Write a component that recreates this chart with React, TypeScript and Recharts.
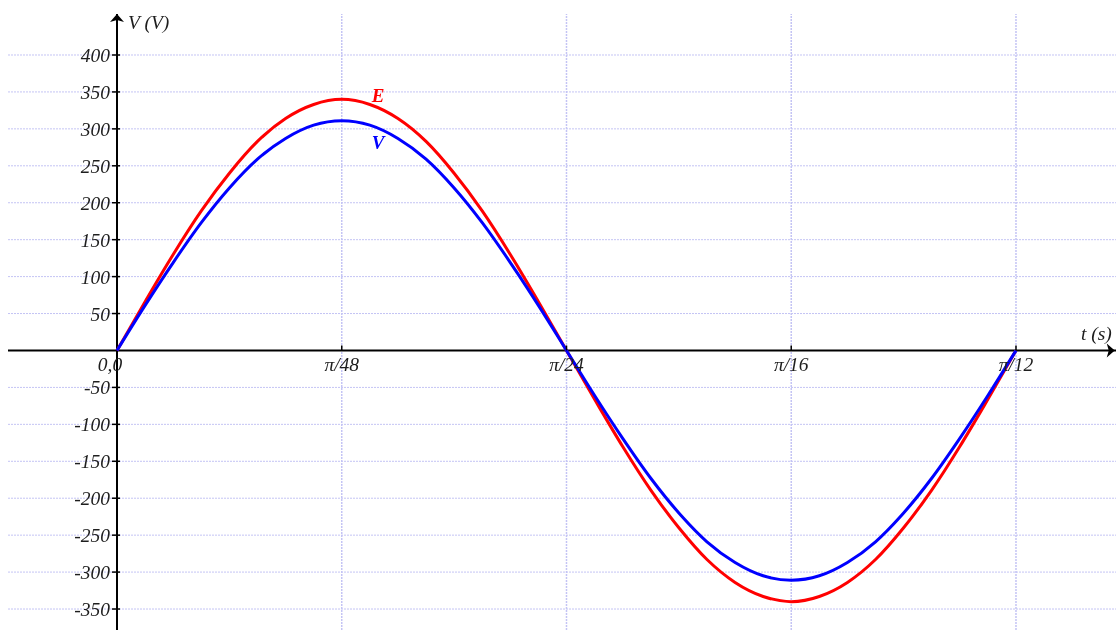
import React from 'react';
import { LineChart, Line, XAxis, YAxis, ReferenceLine, ReferenceDot } from 'recharts';

// time in units of π/48 s
const tValues = [0, 0.125, 0.25, 0.375, 0.5, 0.625, 0.75, 0.875, 1, 1.125, 1.25, 1.375, 1.5, 1.625, 1.75, 1.875, 2, 2.125, 2.25, 2.375, 2.5, 2.625, 2.75, 2.875, 3, 3.125, 3.25, 3.375, 3.5, 3.625, 3.75, 3.875, 4];
const eValues = [0, 66, 130, 189, 240, 283, 314, 333, 340, 333, 314, 283, 240, 189, 130, 66, 0, -66, -130, -189, -240, -283, -314, -333, -340, -333, -314, -283, -240, -189, -130, -66, 0];
const vValues = [0, 61, 119, 173, 220, 259, 287, 305, 311, 305, 287, 259, 220, 173, 119, 61, 0, -61, -119, -173, -220, -259, -287, -305, -311, -305, -287, -259, -220, -173, -119, -61, 0];

const xTicks = [0, 1, 2, 3, 4];
const xTickLabels = ['0,0', 'π/48', 'π/24', 'π/16', 'π/12'];
const yTicks = [-350, -300, -250, -200, -150, -100, -50, 50, 100, 150, 200, 250, 300, 350, 400];

const X_DOMAIN: [number, number] = [-0.485, 4.445];
const Y_DOMAIN: [number, number] = [-378.4, 455.5];

const data = tValues.map((t, i) => ({ t, E: eValues[i], V: vValues[i] }));

const FONT = '"Liberation Serif", "DejaVu Serif", serif';
const GRID = '#c4c4f4';
const TXT = '#1e1e1e';

export default function App() {
  return (
    <div style={{ position: 'fixed', left: 8, top: 8, width: 1108, height: 622 }}>
      <LineChart width={1108} height={622} data={data} margin={{ top: 6, right: 0, bottom: 0, left: 0 }}>
        <XAxis dataKey="t" type="number" domain={X_DOMAIN} allowDataOverflow hide />
        <YAxis type="number" domain={Y_DOMAIN} allowDataOverflow hide />
        {yTicks.map((v) => (
          <ReferenceLine key={'hg' + v} y={v} stroke={GRID} strokeWidth={1} strokeDasharray="2 1" />
        ))}
        {xTicks.filter((x) => x !== 0).map((x) => (
          <ReferenceLine key={'vg' + x} x={x} stroke={GRID} strokeWidth={1.5} strokeDasharray="2 1" />
        ))}
        <ReferenceLine y={0} stroke="#000" strokeWidth={2} />
        <ReferenceLine x={0} stroke="#000" strokeWidth={2} />
        {yTicks.map((v) => (
          <ReferenceDot
            key={'yt' + v}
            x={0}
            y={v}
            r={0}
            shape={(p: any) => (
              <g>
                <line x1={p.cx - 5} x2={p.cx + 3} y1={p.cy} y2={p.cy} stroke="#000" strokeWidth={1.5} />
                <text x={p.cx - 7} y={p.cy + 7} textAnchor="end" fontFamily={FONT} fontStyle="italic" fontSize={19.5} fill={TXT}>
                  {v}
                </text>
              </g>
            )}
          />
        ))}
        {xTicks.map((x, i) => (
          <ReferenceDot
            key={'xt' + x}
            x={x}
            y={0}
            r={0}
            shape={(p: any) => (
              <g>
                {x !== 0 && <line x1={p.cx} x2={p.cx} y1={p.cy - 5} y2={p.cy} stroke="#000" strokeWidth={1.5} />}
                <text x={x === 0 ? p.cx - 7 : p.cx} y={p.cy + 21} textAnchor="middle" fontFamily={FONT} fontStyle="italic" fontSize={19.5} fill={TXT}>
                  {xTickLabels[i]}
                </text>
              </g>
            )}
          />
        ))}
        <ReferenceDot
          x={0}
          y={454}
          r={0}
          shape={(p: any) => (
            <g>
              <polygon points={`${p.cx},${p.cy - 1} ${p.cx - 7},${p.cy + 7} ${p.cx},${p.cy + 5} ${p.cx + 7},${p.cy + 7}`} fill="#000" />
              <text x={p.cx + 11} y={p.cy + 14} fontFamily={FONT} fontStyle="italic" fontSize={19.5} fill={TXT}>
                V (V)
              </text>
            </g>
          )}
        />
        <ReferenceDot
          x={4.435}
          y={0}
          r={0}
          shape={(p: any) => (
            <g>
              <polygon points={`${p.cx + 1},${p.cy} ${p.cx - 7},${p.cy - 7} ${p.cx - 5},${p.cy} ${p.cx - 7},${p.cy + 7}`} fill="#000" />
              <text x={p.cx - 2} y={p.cy - 10} textAnchor="end" fontFamily={FONT} fontStyle="italic" fontSize={19.5} fill={TXT}>
                t (s)
              </text>
            </g>
          )}
        />
        <Line dataKey="E" type="monotone" stroke="#ff0000" strokeWidth={3} dot={false} isAnimationActive={false} />
        <Line dataKey="V" type="monotone" stroke="#0000ff" strokeWidth={3} dot={false} isAnimationActive={false} />
        <ReferenceDot
          x={1}
          y={340}
          r={0}
          shape={(p: any) => (
            <text x={p.cx + 30} y={p.cy + 3} fontFamily={FONT} fontStyle="italic" fontWeight="bold" fontSize={19} fill="#ff0000">
              E
            </text>
          )}
        />
        <ReferenceDot
          x={1}
          y={311}
          r={0}
          shape={(p: any) => (
            <text x={p.cx + 30} y={p.cy + 28} fontFamily={FONT} fontStyle="italic" fontWeight="bold" fontSize={19} fill="#0000ff">
              V
            </text>
          )}
        />
      </LineChart>
    </div>
  );
}
